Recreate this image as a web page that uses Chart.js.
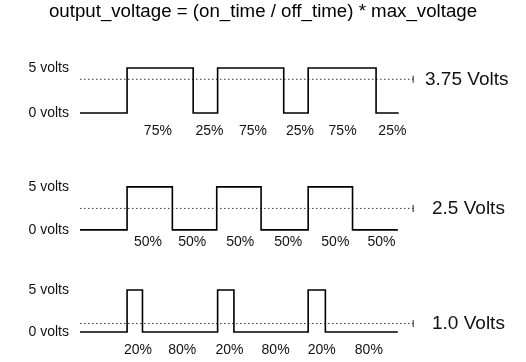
<!DOCTYPE html>
<html><head><meta charset="utf-8">
<script src="https://cdn.jsdelivr.net/npm/chart.js@4"></script>
<style>
html,body{margin:0;padding:0;background:#fff;}
#wrap{position:relative;width:526px;height:362px;overflow:hidden;background:#fff;}
canvas{position:absolute;left:0;}
</style></head><body>
<div id="wrap">
<canvas id="c1" style="top:0px;width:526px;height:150px" width="526" height="150"></canvas>
<canvas id="c2" style="top:150px;width:526px;height:110px" width="526" height="110"></canvas>
<canvas id="c3" style="top:260px;width:526px;height:102px" width="526" height="102"></canvas>
</div>
<script>
// ---- data ----
const titleText = 'output_voltage = (on_time / off_time) * max_voltage';
const voltTicks = [0, 5];
const voltLabels = ['0 volts', '5 volts'];
const timeRange = [-5.2, 31.8];

const edges1 = [-5.2, 0, 7.3, 10, 17.3, 20, 27.5, 30];
const levels1 = [0, 5, 0, 5, 0, 5, 0, 0];
const average1 = 3.75;
const averageLabel1 = '3.75 Volts';
const dutyPos1 = [3.4, 9.1, 13.9, 19.1, 23.8, 29.3];
const dutyLabels1 = ['75%', '25%', '75%', '25%', '75%', '25%'];

const edges2 = [-5.2, 0, 5, 9.9, 14.8, 20, 24.9, 29.9];
const levels2 = [0, 5, 0, 5, 0, 5, 0, 0];
const average2 = 2.5;
const averageLabel2 = '2.5 Volts';
const dutyPos2 = [2.3, 7.2, 12.5, 17.8, 23.0, 28.1];
const dutyLabels2 = ['50%', '50%', '50%', '50%', '50%', '50%'];

const edges3 = [-5.2, 0, 1.7, 10, 11.8, 20, 21.9, 29.9];
const levels3 = [0, 5, 0, 5, 0, 5, 0, 0];
const average3 = 1.0;
const averageLabel3 = '1.0 Volts';
const dutyPos3 = [1.2, 6.1, 11.3, 16.4, 21.5, 26.7];
const dutyLabels3 = ['20%', '80%', '20%', '80%', '20%', '80%'];

const avgEnd = 31.6;

// ---- drawing ----
const FONT = "'Liberation Sans', Arial, Helvetica, sans-serif";

function makeChart(id, d, lay) {
  const wave = d.edges.map((t, i) => ({x: t, y: d.levels[i]}));
  const avg = [{x: timeRange[0], y: d.average}, {x: avgEnd, y: d.average}];
  const opts = {
    responsive: false,
    animation: false,
    layout: {padding: {top: lay.padTop, left: 0, right: 0, bottom: 0}},
    plugins: {
      legend: {display: false},
      tooltip: {enabled: false},
      title: lay.title ? {
        display: true, text: lay.title, color: '#000',
        font: {family: FONT, size: 18.7, weight: 'normal'},
        padding: {top: 1, bottom: lay.titleBottom}
      } : {display: false}
    },
    scales: {
      x: {
        type: 'linear', min: timeRange[0], max: timeRange[1],
        grid: {display: false, drawTicks: false}, border: {display: false},
        afterBuildTicks: s => { s.ticks = d.dutyPos.map(v => ({value: v})); },
        afterFit: s => { s.height = lay.xHeight; },
        ticks: {
          autoSkip: false, maxRotation: 0, padding: lay.xPad, color: '#111',
          font: {family: FONT, size: 14},
          callback: (v, i) => d.dutyLabels[i]
        }
      },
      y: {
        type: 'linear', position: 'left', min: -0.2, max: 5.2,
        grid: {display: false, drawTicks: false}, border: {display: false},
        afterBuildTicks: s => { s.ticks = voltTicks.map(v => ({value: v})); },
        afterFit: s => { s.width = 80; },
        ticks: {
          padding: 11, color: '#111', font: {family: FONT, size: 14},
          callback: (v, i) => voltLabels[i]
        }
      },
      yr: {
        type: 'linear', position: 'right', min: -0.2, max: 5.2,
        grid: {display: false, drawTicks: false}, border: {display: false},
        afterBuildTicks: s => { s.ticks = [{value: d.average}]; },
        afterFit: s => { s.width = 111; },
        ticks: {
          padding: lay.rPad, color: '#111', font: {family: FONT, size: 19},
          callback: () => d.averageLabel
        }
      }
    }
  };
  return new Chart(document.getElementById(id), {
    type: 'line',
    data: {datasets: [
      {data: wave, stepped: 'before', borderColor: '#000', borderWidth: 1.6,
       pointRadius: 0, fill: false, clip: false, yAxisID: 'y'},
      {data: avg, borderColor: '#333', borderWidth: 1, borderDash: [1.5, 2.5],
       pointRadius: [0, 3.5], pointStyle: 'line', pointRotation: 90,
       pointBorderColor: '#444', pointBorderWidth: 1.2,
       fill: false, clip: false, yAxisID: 'y'}
    ]},
    options: opts
  });
}

makeChart('c1', {edges: edges1, levels: levels1, average: average1, averageLabel: averageLabel1,
  dutyPos: dutyPos1, dutyLabels: dutyLabels1},
  {padTop: 0, title: titleText, titleBottom: 42.8, xHeight: 35.2, xPad: 8, rPad: 10});
makeChart('c2', {edges: edges2, levels: levels2, average: average2, averageLabel: averageLabel2,
  dutyPos: dutyPos2, dutyLabels: dutyLabels2},
  {padTop: 35.2, xHeight: 26.2, xPad: 2, rPad: 17});
makeChart('c3', {edges: edges3, levels: levels3, average: average3, averageLabel: averageLabel3,
  dutyPos: dutyPos3, dutyLabels: dutyLabels3},
  {padTop: 28.2, xHeight: 25.2, xPad: 8.4, rPad: 17});
</script>
</body></html>
